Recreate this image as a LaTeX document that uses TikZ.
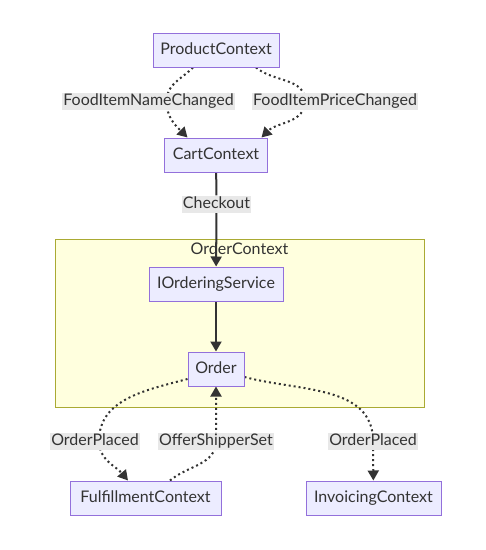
\documentclass[tikz,border=0pt]{standalone}
\usepackage{fontspec}
\setmainfont{Lato}
\usetikzlibrary{arrows.meta,positioning,backgrounds}
\definecolor{nodefill}{HTML}{ECECFF}
\definecolor{nodeline}{HTML}{9370DB}
\definecolor{clusterfill}{HTML}{FFFFDE}
\definecolor{clusterline}{HTML}{AAAA33}
\definecolor{lblfill}{HTML}{E8E8E8}
\definecolor{ink}{HTML}{333333}
\pgfdeclarelayer{edges}
\pgfsetlayers{background,edges,main}
\tikzset{
  ctx/.style={draw=nodeline, fill=nodefill, line width=1pt, text=ink, align=center,
    minimum height=34pt, inner sep=0pt, text height=12pt, text depth=3.5pt},
  lbl/.style={fill=lblfill, text=ink, inner xsep=1pt, inner ysep=0pt,
    text height=12.5pt, text depth=4.5pt},
  cluster/.style={draw=clusterline, fill=clusterfill, line width=1pt, inner sep=0pt},
  arr/.style={-{Triangle[length=10pt,width=11pt]}, draw=ink, line width=2pt},
  darr/.style={arr, dash pattern=on 2pt off 3pt}
}

\begin{document}
\begin{tikzpicture}[font=\fontsize{16}{19}\selectfont]
  \useasboundingbox (0pt,0pt) rectangle (486pt,-550pt);

  \node[ctx, minimum width=126pt] (product) at (216pt,-50pt) {ProductContext};
  \node[ctx, below=70pt of product, minimum width=103pt] (cart) {CartContext};
  \node[ctx, below=94pt of cart, minimum width=134pt] (ordering) {IOrderingService};
  \node[ctx, below=50pt of ordering, minimum width=56pt] (order) {Order};
  \node[ctx, below=94pt of order, xshift=-70.5pt, minimum width=151pt] (fulfillment) {FulfillmentContext};
  \node[ctx, below=94pt of order, xshift=157.5pt, minimum width=135pt] (invoicing) {InvoicingContext};

  \begin{scope}[on background layer]
    \node[cluster, minimum width=369pt, minimum height=168pt] (ordercontext) at (239.5pt,-323pt) {};
    \node[text=ink, below=1pt of ordercontext.north] (ordertitle) {OrderContext};
  \end{scope}

  % edge labels
  \node[lbl] (nameChanged) at (148.5pt,-101pt) {FoodItemNameChanged};
  \node[lbl] (priceChanged) at (335pt,-101pt) {FoodItemPriceChanged};
  \node[lbl] (checkout) at (216.5pt,-204pt) {Checkout};
  \node[lbl] (placedLeft) at (95pt,-441pt) {OrderPlaced};
  \node[lbl] (shipperSet) at (216pt,-441pt) {OfferShipperSet};
  \node[lbl] (placedRight) at (373pt,-441pt) {OrderPlaced};

  \begin{pgfonlayer}{edges}
    \draw[darr] ([xshift=-23pt]product.south) to[out=-135,in=90] ([xshift=18pt]nameChanged.center)
      to[out=-90,in=135] ([xshift=-28.5pt]cart.north);
    \draw[darr] ([xshift=40pt]product.south) to[out=-40,in=90] ([xshift=-30pt]priceChanged.center)
      to[out=-90,in=45] ([xshift=45.5pt]cart.north);
    \draw[arr] (cart) -- (checkout) -- (ordering);
    \draw[arr] (ordering) -- (order);
    \draw[darr] ([yshift=-10pt]order.west) to[out=195,in=90] ([xshift=4pt]placedLeft.center)
      to[out=-90,in=130] ([xshift=-17.5pt]fulfillment.north);
    \draw[darr] ([xshift=24.5pt]fulfillment.north) to[out=40,in=-90] (shipperSet.center) -- (order);
    \draw[darr] ([yshift=-8pt]order.east) to[out=-15,in=90] (placedRight.center) -- (invoicing);
  \end{pgfonlayer}
\end{tikzpicture}
\end{document}
